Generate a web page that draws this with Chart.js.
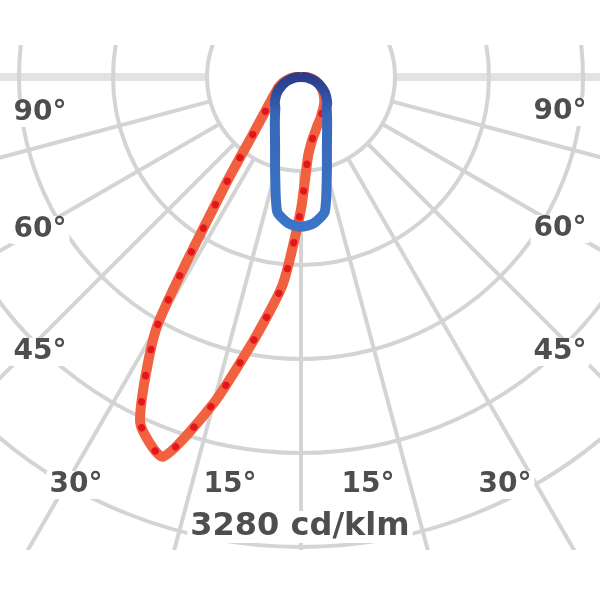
<!DOCTYPE html>
<html>
<head>
<meta charset="utf-8">
<script src="https://cdn.jsdelivr.net/npm/chart.js@4.4.1/dist/chart.umd.min.js"></script>
<style>
  html, body { margin: 0; padding: 0; background: #ffffff; }
  #wrap { position: relative; width: 600px; height: 600px; }
</style>
</head>
<body>
<div id="wrap"><canvas id="c" width="600" height="600"></canvas></div>
<script>
// ---- data (cd/klm) ----
const gammas      = [0, 5, 10, 15, 20, 25, 30, 35, 40, 45, 50, 55, 60, 65, 70, 75, 80, 85, 90];
const redLeft     = [1125, 1770, 2255, 2875, 3440, 3240, 2450, 1130, 640, 450, 350, 290, 245, 215, 180, 145, 110, 75, 45];
const redRight    = [1125, 680, 545, 475, 425, 390, 355, 330, 305, 280, 255, 230, 205, 180, 155, 130, 100, 70, 45];
const blueLeft    = [1275, 1250, 1165, 850, 645, 525, 445, 385, 340, 315, 285, 255, 220, 185, 150, 115, 75, 40, 0];
const blueRight   = [1275, 1250, 1165, 850, 645, 525, 445, 385, 340, 315, 285, 255, 220, 185, 150, 115, 75, 40, 0];
const ringValues  = [800, 1600, 2400, 3200, 4000];
const spokeAngles = [-90, -75, -60, -45, -30, -15, 0, 15, 30, 45, 60, 75, 90];
const leftLabels  = ['90°', '60°', '45°', '30°', '15°'];
const rightLabels = ['15°', '30°', '45°', '60°', '90°'];
const unitLabel   = '3280 cd/klm';

function polarPoints(left, right) {
  const pts = [{x: 0, y: 0}];
  for (let i = gammas.length - 1; i >= 0; i--) {
    const g = gammas[i] * Math.PI / 180;
    pts.push({x: -left[i] * Math.sin(g), y: -left[i] * Math.cos(g)});
  }
  for (let i = 1; i < gammas.length; i++) {
    const g = gammas[i] * Math.PI / 180;
    pts.push({x: right[i] * Math.sin(g), y: -right[i] * Math.cos(g)});
  }
  pts.push({x: 0, y: 0});
  return pts;
}

const gridPlugin = {
  id: 'polarGrid',
  beforeDatasetsDraw(chart) {
    const {ctx, scales: {x, y}} = chart;
    const cx = x.getPixelForValue(0), cy = y.getPixelForValue(0);
    const k = x.getPixelForValue(1000) - cx; // px per 1000
    ctx.save();
    ctx.beginPath();
    ctx.rect(0, 45, 600, 505);
    ctx.clip();
    const r1 = ringValues[0] * k / 1000;
    spokeAngles.forEach(a => {
      const t = a * Math.PI / 180;
      ctx.beginPath();
      ctx.strokeStyle = Math.abs(a) === 90 ? '#e2e2e2' : '#d4d4d4';
      ctx.lineWidth = Math.abs(a) === 90 ? 8 : 4;
      ctx.moveTo(cx + r1 * Math.sin(t), cy + r1 * Math.cos(t));
      ctx.lineTo(cx + 900 * Math.sin(t), cy + 900 * Math.cos(t));
      ctx.stroke();
    });
    ctx.strokeStyle = '#d4d4d4';
    ctx.lineWidth = 4;
    ringValues.forEach(v => {
      ctx.beginPath();
      ctx.arc(cx, cy, v * k / 1000, 0, Math.PI * 2);
      ctx.stroke();
    });
    ctx.restore();
  },
  afterDatasetsDraw(chart) {
    const {ctx} = chart;
    ctx.save();
    ctx.textAlign = 'center';
    ctx.textBaseline = 'middle';
    const lab = (t, px, py, size) => {
      ctx.font = 'bold ' + size + 'px "DejaVu Sans"';
      const w = ctx.measureText(t).width;
      ctx.fillStyle = '#ffffff';
      ctx.fillRect(px - w / 2 - 3, py - size * 0.5, w + 6, size);
      ctx.fillStyle = '#4e4e4e';
      ctx.fillText(t, px, py);
    };
    const lpos = [[40, 113], [40, 230], [40, 352], [76, 485], [230, 485]];
    const rpos = [[368, 485], [505, 485], [560, 352], [560, 229], [560, 112]];
    leftLabels.forEach((t, i) => lab(t, lpos[i][0], lpos[i][1], 28));
    rightLabels.forEach((t, i) => lab(t, rpos[i][0], rpos[i][1], 28));
    lab(unitLabel, 300, 527, 32);
    ctx.restore();
  }
};

const pxPerUnit = 0.1175;
const cxPx = 301, cyPx = 77;

new Chart(document.getElementById('c'), {
  type: 'scatter',
  data: {
    datasets: [
      {
        label: 'C90-C270',
        data: polarPoints(blueLeft, blueRight),
        showLine: true,
        borderColor: (ctx) => {
          const ca = ctx.chart.chartArea;
          if (!ca) return '#3a72c4';
          const g = ctx.chart.ctx.createLinearGradient(0, 77, 0, 235);
          g.addColorStop(0, '#2b3b8c');
          g.addColorStop(0.25, '#3867b8');
          g.addColorStop(1, '#3b76c8');
          return g;
        },
        borderWidth: 10,
        borderJoinStyle: 'round',
        pointRadius: 0,
        tension: 0.2
      },
      {
        label: 'C0-C180 dotted',
        data: polarPoints(redLeft, redRight),
        showLine: true,
        borderColor: '#e2161c',
        borderWidth: 7,
        borderDash: [0.5, 26],
        borderCapStyle: 'round',
        pointRadius: 0,
        tension: 0.2
      },
      {
        label: 'C0-C180',
        data: polarPoints(redLeft, redRight),
        showLine: true,
        borderColor: '#f1603f',
        borderWidth: 10,
        borderJoinStyle: 'round',
        pointRadius: 0,
        tension: 0.2
      }
    ]
  },
  options: {
    responsive: false,
    animation: false,
    layout: {padding: 0},
    plugins: {legend: {display: false}, tooltip: {enabled: false}, title: {display: false}},
    scales: {
      x: {type: 'linear', display: false, min: -cxPx / pxPerUnit, max: (600 - cxPx) / pxPerUnit},
      y: {type: 'linear', display: false, min: -(600 - cyPx) / pxPerUnit, max: cyPx / pxPerUnit}
    }
  },
  plugins: [gridPlugin]
});
</script>
</body>
</html>
